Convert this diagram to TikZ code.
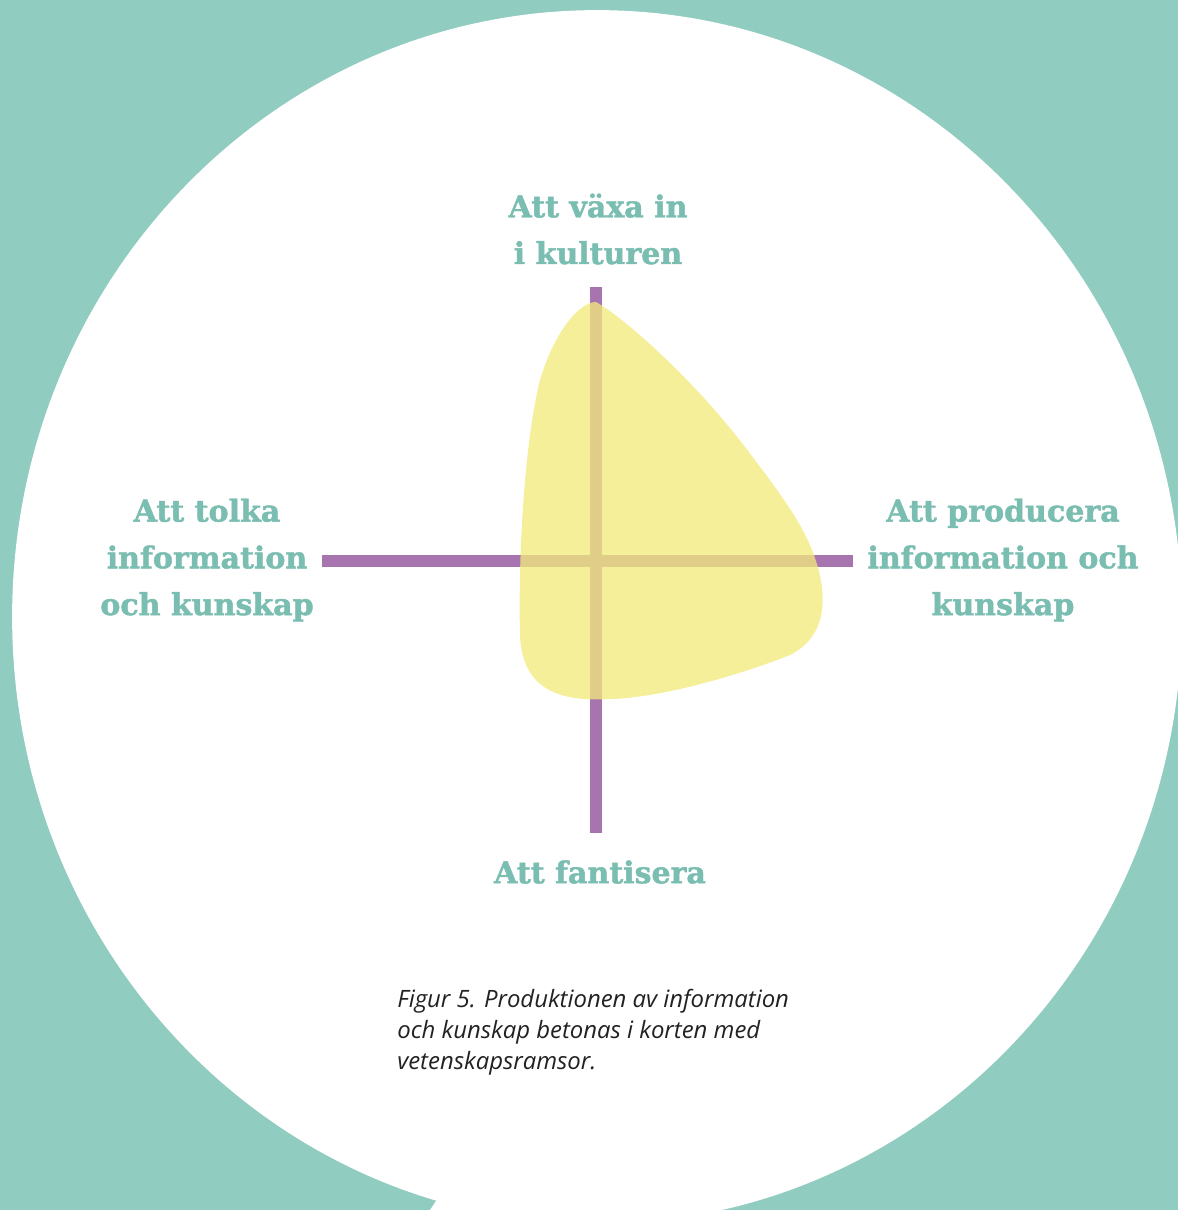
\documentclass[tikz,border=0pt]{standalone}
\usepackage{fontspec}
\newfontfamily\labelfont{DejaVu Serif}[BoldFont={* Bold}, BoldFeatures={FakeBold=1.5}]
\newfontfamily\capfont{Open Sans}[Ligatures=NoCommon]
\definecolor{bgteal}{RGB}{144,204,192}
\definecolor{labelteal}{RGB}{122,189,177}
\definecolor{axispurple}{RGB}{168,116,176}
\definecolor{blobyellow}{RGB}{242,234,123}
\definecolor{captext}{RGB}{34,34,34}
\tikzset{
  axisline/.style={draw=axispurple, line width=0.23cm},
  dimlabel/.style={text=labelteal, font=\labelfont\bfseries\fontsize{17.1}{26.6}\selectfont,
    align=center, inner sep=0pt},
  captionbox/.style={text=captext, font=\capfont\itshape\fontsize{13.6}{17.6}\selectfont,
    align=left, inner sep=0pt, anchor=west},
  blob/.style={fill=blobyellow, fill opacity=0.76}
}
\begin{document}
\begin{tikzpicture}[x=0.02cm, y=-0.02cm]
  % page background
  \fill[bgteal] (0,0) rectangle (1178,1210);
  \useasboundingbox (0,0) rectangle (1178,1210);
  \clip (0,0) rectangle (1178,1210);
  % speech bubble: large oval with a tail at the bottom
  \fill[white] (597,617) ellipse [x radius=11.7cm, y radius=12.14cm];
  \fill[white] (440,1195) -- (420,1225) -- (620,1225) -- (620,1180) -- cycle;

  % axis end points
  \coordinate (vtop) at (596,287);
  \coordinate (vbot) at (596,833);
  \coordinate (hleft) at (322,561);
  \coordinate (hright) at (853,561);
  \draw[axisline] (vtop) -- (vbot);
  \draw[axisline] (hleft) -- (hright);

  % profile area
  \path[blob] (596,302) .. controls (620,315) and (690,375) .. (745,447)
    .. controls (780,493) and (800,520) .. (812,550)
    .. controls (828,590) and (830,635) .. (790,655)
    .. controls (740,675) and (660,698) .. (610,699)
    .. controls (560,702) and (522,690) .. (520,635)
    .. controls (518,550) and (525,440) .. (540,380)
    .. controls (555,330) and (580,302) .. (596,302) -- cycle;

  % axis labels
  \node[dimlabel] (top) at (598,229) {Att växa in\\i kulturen};
  \node[dimlabel] (left) at (207,560) {Att tolka\\information\\och kunskap};
  \node[dimlabel] (right) at (1003,560) {Att producera\\information och\\kunskap};
  \node[dimlabel] (bottom) at (600,872) {Att fantisera};

  % caption
  \node[captionbox] (cap) at (397,1032) {Figur 5. Produktionen av information\\och kunskap betonas i korten med\\vetenskapsramsor.};
\end{tikzpicture}
\end{document}
